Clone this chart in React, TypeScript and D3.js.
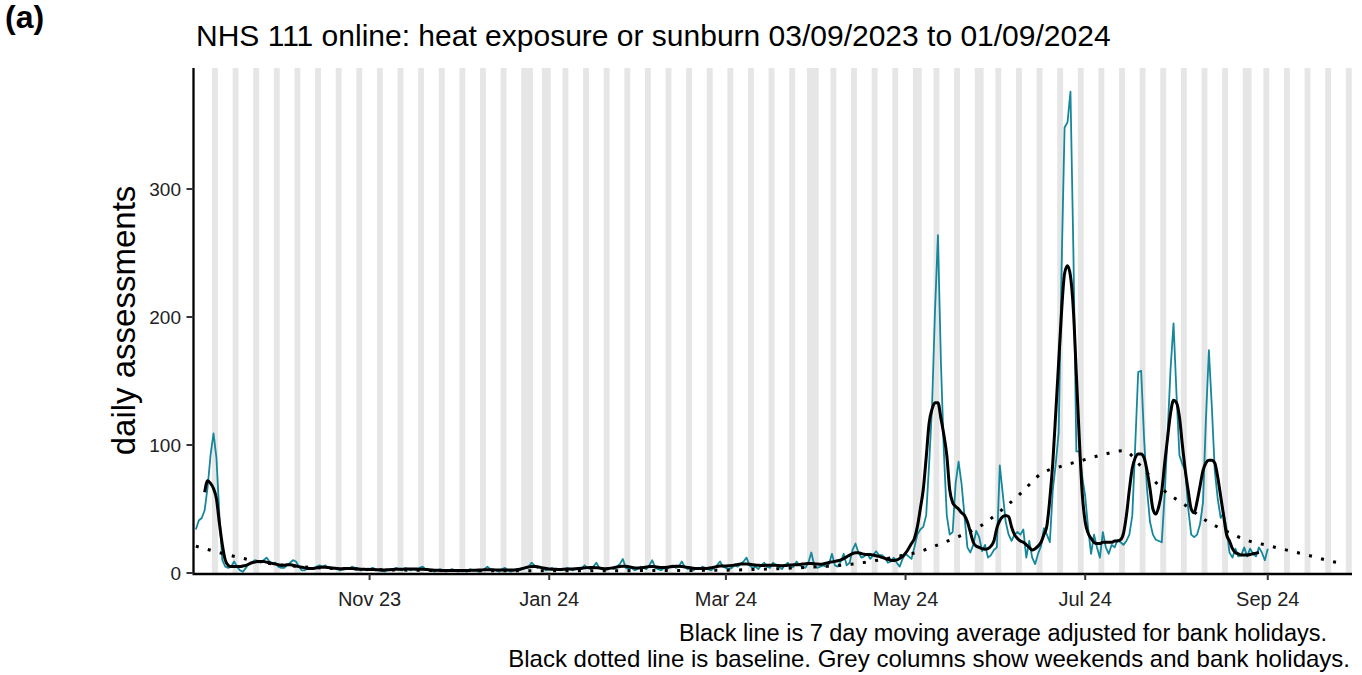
import React from "react";
import * as d3 from "d3";

// ---------------- DATA ----------------
const START_DATE = "2023-09-03"; // first daily value

// Daily NHS 111 online assessments (03/09/2023 .. 01/09/2024), one per day
const DAILY_ASSESSMENTS: number[] = [
  34, 41, 43, 49, 67, 92, 109, 90, 45, 10,
  5, 4, 5, 9, 5, 2, 1, 4, 7, 8,
  10, 9, 8, 10, 12, 9, 7, 8, 5, 4,
  4, 6, 8, 10, 9, 5, 2, 2, 4, 3,
  4, 5, 6, 5, 6, 4, 3, 4, 3, 2,
  3, 4, 3, 5, 4, 3, 2, 3, 2, 3,
  4, 3, 2, 2, 1, 2, 3, 2, 4, 3,
  2, 4, 3, 2, 3, 2, 4, 5, 3, 2,
  2, 1, 2, 3, 2, 1, 2, 3, 2, 1,
  2, 2, 1, 3, 2, 2, 1, 2, 3, 5,
  3, 2, 2, 1, 3, 4, 2, 1, 2, 3,
  2, 3, 4, 5, 8, 6, 4, 5, 3, 2,
  3, 4, 2, 3, 2, 3, 4, 3, 2, 3,
  4, 3, 6, 4, 3, 5, 8, 4, 3, 2,
  3, 4, 3, 5, 7, 11, 4, 3, 4, 2,
  3, 5, 4, 3, 6, 10, 4, 3, 2, 4,
  3, 5, 6, 4, 5, 9, 5, 3, 4, 2,
  4, 3, 5, 4, 3, 2, 4, 6, 9, 5,
  4, 3, 4, 6, 5, 7, 9, 12, 6, 4,
  5, 3, 6, 8, 5, 4, 8, 6, 5, 3,
  6, 8, 4, 5, 9, 6, 5, 4, 8, 16,
  6, 4, 5, 6, 5, 7, 15, 6, 5, 9,
  15, 6, 8, 18, 23, 16, 12, 13, 15, 11,
  14, 17, 14, 14, 12, 8, 9, 12, 8, 5,
  11, 15, 13, 11, 20, 30, 34, 36, 45, 85,
  130, 205, 264, 165, 95, 45, 30, 32, 70, 87,
  70, 45, 20, 16, 22, 33, 28, 17, 22, 12,
  14, 18, 20, 84, 62, 40, 30, 25, 30, 32,
  30, 34, 12, 25, 12, 7, 15, 21, 35, 30,
  24, 65, 85, 110, 240, 348, 352, 376, 250, 95,
  95, 75, 60, 35, 15, 30, 20, 12, 32, 20,
  15, 22, 20, 26, 24, 22, 25, 30, 45, 100,
  157, 158, 105, 65, 40, 30, 26, 25, 24, 62,
  110, 160, 195, 140, 92, 85, 80, 50, 30, 28,
  30, 38, 55, 120, 174, 130, 80, 58, 43, 47,
  35, 16, 12, 19, 13, 14, 20, 13, 19, 15,
  13, 20, 16, 10, 19,
];

// 7 day moving average (centred), first value belongs to day index 3
const MA_FIRST_DAY = 3;
const MOVING_AVERAGE: number[] = [
  63, 72, 70, 66, 58, 39, 22,
  10, 6, 5, 5, 5, 5, 5.5, 6, 7, 8,
  8.5, 9, 9, 9, 8.5, 8, 7.5, 7, 6.5, 6,
  6, 6.5, 6.5, 6, 5.5, 5, 4.5, 4, 3.5, 3.5,
  3.5, 4, 4.5, 4.5, 4.5, 4.3, 4, 3.8, 3.5, 3.4,
  3.4, 3.5, 3.5, 3.5, 3.4, 3.2, 3, 2.9, 2.8, 2.8,
  2.7, 2.6, 2.5, 2.4, 2.4, 2.5, 2.6, 2.8, 3, 3,
  3, 3, 3.1, 3.2, 3.2, 3.1, 3, 2.9, 2.8, 2.6,
  2.4, 2.2, 2.1, 2, 2, 2, 2, 2, 2, 1.9,
  1.9, 1.9, 1.9, 2, 2.1, 2.2, 2.3, 2.4, 2.5, 2.5,
  2.5, 2.5, 2.4, 2.3, 2.3, 2.3, 2.3, 2.3, 2.4, 2.6,
  3, 3.6, 4.2, 4.7, 5, 5, 4.8, 4.4, 3.9, 3.5,
  3.2, 3, 2.9, 2.8, 2.8, 2.9, 3, 3.1, 3.2, 3.4,
  3.6, 3.8, 4, 4.2, 4.3, 4.3, 4.1, 3.9, 3.6, 3.4,
  3.5, 3.8, 4.2, 4.7, 5.1, 5.3, 5.2, 4.9, 4.4, 4,
  3.9, 4, 4.3, 4.7, 5, 5, 4.8, 4.5, 4.3, 4.3,
  4.5, 4.8, 5.1, 5.3, 5.2, 5, 4.7, 4.4, 4.1, 3.8,
  3.6, 3.5, 3.5, 3.6, 3.8, 4.1, 4.6, 5.1, 5.4, 5.5,
  5.5, 5.6, 5.9, 6.3, 6.7, 7, 7.1, 7, 6.8, 6.5,
  6.2, 6, 5.9, 5.9, 6, 6.1, 6.1, 6, 5.8, 5.7,
  5.8, 6, 6.2, 6.4, 6.5, 6.6, 7, 7.3, 7.4, 7.4,
  7.3, 7, 6.8, 7, 7.6, 8.2, 8.7, 9.1, 9.6, 10.3,
  11.3, 12.6, 14, 15.2, 15.8, 15.8, 15.2, 14.6, 14.4, 14.4,
  14, 13.5, 13, 12.2, 11.4, 10.6, 10, 9.8, 10.2, 11.4,
  13, 15.5, 19, 23, 27, 36, 50, 65, 90, 117,
  128, 133, 133, 121, 108, 92, 65, 55, 52, 50,
  47, 45, 40, 32, 24, 21, 20, 19, 18.5, 19,
  21, 25, 35, 41, 44, 45, 44, 36, 30, 27,
  25, 24, 22, 20, 18, 19, 21, 24, 30, 37,
  58, 86, 125, 165, 205, 234, 240, 232, 205, 155,
  105, 62, 40, 31, 27, 24, 23, 23, 24, 24,
  24, 24, 25, 25, 26, 31, 45, 65, 82, 90,
  93, 93, 90, 80, 66, 50, 46, 52, 64, 86,
  106, 125, 135, 133, 122, 100, 80, 64, 50, 47,
  56, 68, 80, 86, 88, 88, 86, 75, 60, 45,
  30, 25, 19, 16, 15, 14, 14, 14, 14.5, 15,
  15.5, 16,
];

// Baseline (day index from START_DATE, value)
const BASELINE_DAY: number[] = [
  0, 7, 14, 21, 28, 35, 42, 49, 56, 63, 70, 77, 84, 91, 98, 105, 112, 119, 126,
  133, 140, 147, 154, 161, 168, 175, 182, 189, 196, 203, 210, 217, 224, 231, 238,
  245, 252, 259, 266, 273, 280, 287, 294, 301, 308, 315, 322, 329, 336, 343, 350,
  357, 364, 371, 378, 385, 389,
];
const BASELINE_VALUE: number[] = [
  21, 16.5, 12.5, 9, 6.5, 5, 4, 3.4, 3, 2.6, 2.3, 2.1, 2, 1.9, 1.8, 1.8, 1.8, 1.8, 1.8,
  1.8, 1.8, 1.8, 1.9, 1.9, 2, 2.1, 2.3, 2.7, 3.2, 3.9, 4.7, 5.7, 7.3, 9.8, 12.8,
  16.2, 22, 28.5, 36, 48, 62, 77.5, 83.5, 88, 92.5, 95.5, 80.5, 64, 53, 41, 32.5,
  25.5, 21.5, 17.6, 13.7, 9.4, 7.5,
];

const BANK_HOLIDAYS = [
  "2023-12-25", "2023-12-26", "2024-01-01", "2024-03-29",
  "2024-04-01", "2024-05-06", "2024-05-27", "2024-08-26",
];

const X_TICKS = ["2023-11-01", "2024-01-01", "2024-03-01", "2024-05-01", "2024-07-01", "2024-09-01"];
const Y_TICKS = [0, 100, 200, 300];

const PANEL_LABEL = "(a)";
const TITLE = "NHS 111 online: heat exposure or sunburn 03/09/2023 to 01/09/2024";
const Y_TITLE = "daily assessments";
const CAPTION = [
  "Black line is 7 day moving average adjusted for bank holidays.",
  "Black dotted line is baseline. Grey columns show weekends and bank holidays.",
];

// ---------------- CHART ----------------
const FONT = "'Liberation Sans', Arial, Helvetica, sans-serif";
const TEAL = "#15879b";

export default function App() {
  const W = 1362, H = 675;
  const left = 192, right = 1352, top = 68, bottom = 573;

  const parse = d3.utcParse("%Y-%m-%d");
  const fmtKey = d3.utcFormat("%Y-%m-%d");
  const fmtTick = d3.utcFormat("%b %y");
  const start = parse(START_DATE) as Date;
  const dayToDate = (d: number) => new Date(start.getTime() + d * 864e5);

  const x = d3.scaleUtc().domain([dayToDate(-1.3), dayToDate(392.6)]).range([left, right]);
  const y = d3.scaleLinear().domain([0, 394.5]).range([bottom, top]);
  const xd = (d: number) => x(dayToDate(d));

  // weekend / bank holiday columns merged into runs (from the first full weekend on)
  const bh = new Set(BANK_HOLIDAYS);
  const runs: [number, number][] = [];
  let runStart: number | null = null;
  for (let d = 1; d <= 396; d++) {
    const dt = dayToDate(d);
    const wd = dt.getUTCDay();
    const grey = wd === 0 || wd === 6 || bh.has(fmtKey(dt));
    if (grey && runStart === null) runStart = d;
    if (!grey && runStart !== null) {
      runs.push([runStart, d - 1]);
      runStart = null;
    }
  }

  const tealPath = d3
    .line<number>()
    .x((_, i) => xd(i))
    .y((v) => y(v))(DAILY_ASSESSMENTS) as string;

  const maPath = d3
    .line<number>()
    .x((_, i) => xd(i + MA_FIRST_DAY))
    .y((v) => y(v))
    .curve(d3.curveMonotoneX)(MOVING_AVERAGE) as string;

  const basePath = d3
    .line<number>()
    .x((_, i) => xd(BASELINE_DAY[i]))
    .y((v) => y(v))
    .curve(d3.curveMonotoneX)(BASELINE_VALUE) as string;

  const axisX = left + 1.5;

  return (
    <div style={{ position: "absolute", left: 0, top: 0 }}>
      <svg width={W} height={H} viewBox={`0 0 ${W} ${H}`} style={{ display: "block", background: "#fff" }}>
        <defs>
          <clipPath id="plotclip">
            <rect x={left} y={top} width={right - left} height={bottom - top} />
          </clipPath>
        </defs>
        <rect x={0} y={0} width={W} height={H} fill="#fff" />

        <g clipPath="url(#plotclip)">
          {runs.map(([a, b], i) => (
            <rect
              key={i}
              x={xd(a - 0.5)}
              y={top}
              width={xd(b + 0.5) - xd(a - 0.5)}
              height={bottom - top}
              fill="#e6e6e6"
            />
          ))}
          <path d={tealPath} fill="none" stroke={TEAL} strokeWidth={1.8} strokeLinejoin="round" />
          <path d={maPath} fill="none" stroke="#000" strokeWidth={3} strokeLinejoin="round" />
          <path d={basePath} fill="none" stroke="#000" strokeWidth={3} strokeDasharray="3 9.4" />
        </g>

        {/* axes */}
        <line x1={axisX} x2={axisX} y1={top} y2={bottom + 1} stroke="#000" strokeWidth={2.3} />
        <line x1={axisX - 1} x2={right} y1={bottom + 1} y2={bottom + 1} stroke="#000" strokeWidth={2.3} />

        {Y_TICKS.map((t) => (
          <g key={t}>
            <line x1={axisX - 7} x2={axisX} y1={y(t)} y2={y(t)} stroke="#333" strokeWidth={2} />
            <text
              x={left - 11}
              y={y(t)}
              dy="0.35em"
              textAnchor="end"
              fontFamily={FONT}
              fontSize={19}
              fill="#222"
            >
              {t}
            </text>
          </g>
        ))}

        {X_TICKS.map((s) => {
          const dt = parse(s) as Date;
          const px = x(dt);
          return (
            <g key={s}>
              <line x1={px} x2={px} y1={bottom + 1} y2={bottom + 7} stroke="#333" strokeWidth={2} />
              <text x={px} y={606} textAnchor="middle" fontFamily={FONT} fontSize={20} fill="#222">
                {fmtTick(dt)}
              </text>
            </g>
          );
        })}

        {/* titles */}
        <text x={5} y={28} fontFamily={FONT} fontWeight="bold" fontSize={32} fill="#000">
          {PANEL_LABEL}
        </text>
        <text x={196} y={46} fontFamily={FONT} fontSize={30} fill="#000">
          {TITLE}
        </text>
        <text
          transform={`translate(135, ${(top + bottom) / 2}) rotate(-90)`}
          textAnchor="middle"
          fontFamily={FONT}
          fontSize={33}
          fill="#000"
        >
          {Y_TITLE}
        </text>

        <text x={1327} y={641} textAnchor="end" fontFamily={FONT} fontSize={23.5} fill="#000">
          {CAPTION[0]}
        </text>
        <text x={1350} y={667} textAnchor="end" fontFamily={FONT} fontSize={24} fill="#000">
          {CAPTION[1]}
        </text>
      </svg>
    </div>
  );
}
